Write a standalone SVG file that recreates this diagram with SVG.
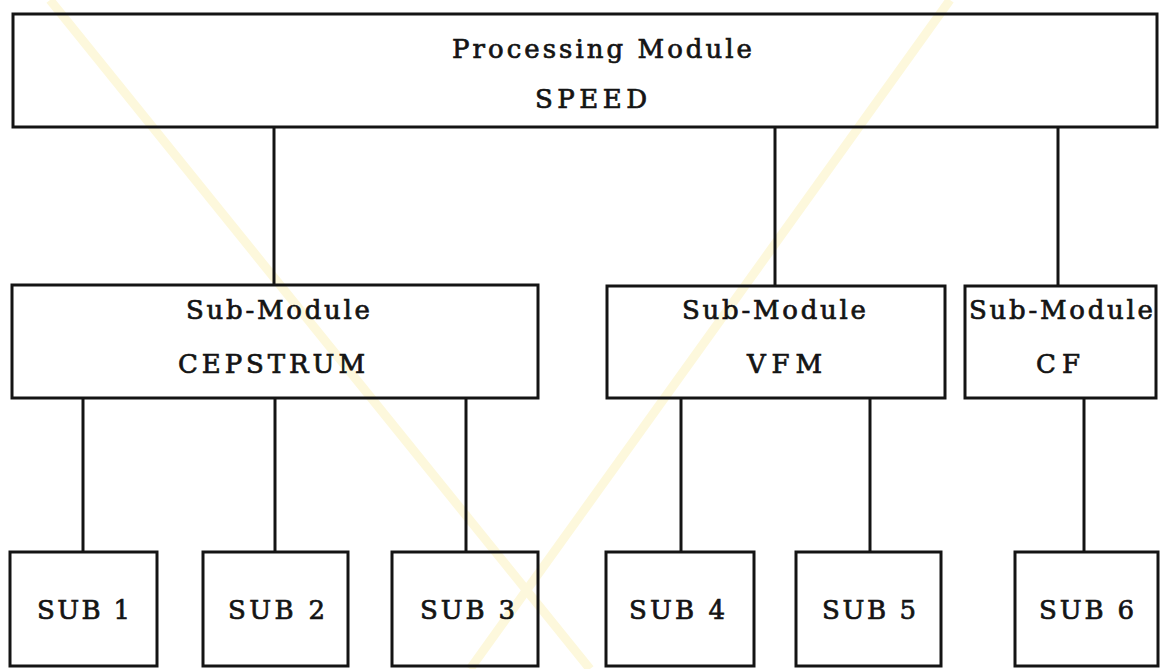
<svg xmlns="http://www.w3.org/2000/svg" width="1162" height="669" viewBox="0 0 1162 669">
<style>
.box{fill:none;stroke:#141414;stroke-width:3}
.con line{stroke:#141414;stroke-width:3}
.t{font-family:"DejaVu Serif","Liberation Serif",serif;font-size:26px;fill:#141414;stroke:#141414;stroke-width:0.7}
.wm{stroke:#fdf8dc;stroke-width:9;fill:none}
</style>
<rect width="1162" height="669" fill="#ffffff"/>
<g id="watermark">
<line class="wm" x1="50" y1="0" x2="590" y2="669"/>
<line class="wm" x1="950" y1="0" x2="470" y2="669"/>
</g>
<g class="con" id="connectors">
<line x1="274" y1="127" x2="274" y2="285"/>
<line x1="775" y1="127" x2="775" y2="286"/>
<line x1="1058" y1="127" x2="1058" y2="286"/>
<line x1="83" y1="398" x2="83" y2="552"/>
<line x1="275" y1="398" x2="275" y2="552"/>
<line x1="466" y1="398" x2="466" y2="552"/>
<line x1="681" y1="398" x2="681" y2="552"/>
<line x1="870" y1="398" x2="870" y2="552"/>
<line x1="1084" y1="398" x2="1084" y2="552"/>
</g>
<g id="speed">
<rect class="box" x="13" y="14" width="1144" height="113"/>
<text class="t" x="452" y="58" textLength="300" lengthAdjust="spacing">Processing Module</text>
<text class="t" x="535" y="108" textLength="112" lengthAdjust="spacing">SPEED</text>
</g>
<g id="cepstrum">
<rect class="box" x="12" y="285" width="526" height="113"/>
<text class="t" x="186" y="319" textLength="184" lengthAdjust="spacing">Sub-Module</text>
<text class="t" x="178" y="373" textLength="187" lengthAdjust="spacing">CEPSTRUM</text>
</g>
<g id="vfm">
<rect class="box" x="607" y="286" width="338" height="112"/>
<text class="t" x="682" y="319" textLength="184" lengthAdjust="spacing">Sub-Module</text>
<text class="t" x="747" y="373" textLength="75" lengthAdjust="spacing">VFM</text>
</g>
<g id="cf">
<rect class="box" x="965" y="286" width="191" height="112"/>
<text class="t" x="969" y="319" textLength="184" lengthAdjust="spacing">Sub-Module</text>
<text class="t" x="1036" y="373" textLength="44" lengthAdjust="spacing">CF</text>
</g>
<g id="sub1">
<rect class="box" x="10" y="552" width="147" height="114"/>
<text class="t" x="37" y="619" textLength="93" lengthAdjust="spacing">SUB 1</text>
</g>
<g id="sub2">
<rect class="box" x="203" y="552" width="145" height="114"/>
<text class="t" x="228" y="619" textLength="97" lengthAdjust="spacing">SUB 2</text>
</g>
<g id="sub3">
<rect class="box" x="392" y="552" width="146" height="114"/>
<text class="t" x="420" y="619" textLength="95" lengthAdjust="spacing">SUB 3</text>
</g>
<g id="sub4">
<rect class="box" x="606" y="552" width="148" height="114"/>
<text class="t" x="629" y="619" textLength="96" lengthAdjust="spacing">SUB 4</text>
</g>
<g id="sub5">
<rect class="box" x="796" y="552" width="145" height="114"/>
<text class="t" x="822" y="619" textLength="94" lengthAdjust="spacing">SUB 5</text>
</g>
<g id="sub6">
<rect class="box" x="1015" y="552" width="143" height="114"/>
<text class="t" x="1039" y="619" textLength="95" lengthAdjust="spacing">SUB 6</text>
</g>
</svg>
